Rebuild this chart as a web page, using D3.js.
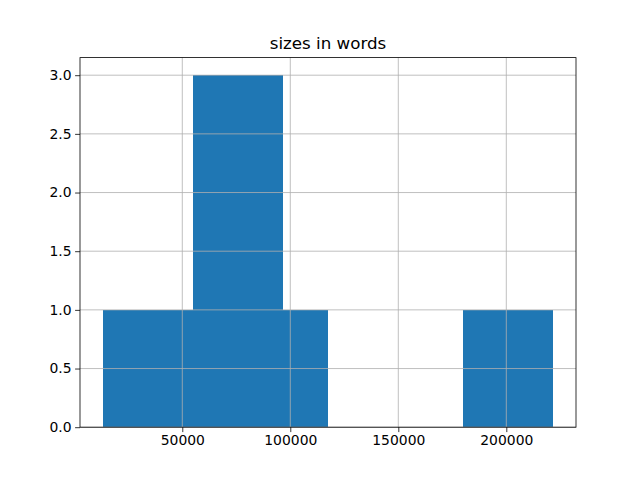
<!DOCTYPE html>
<html><head><meta charset="utf-8">
<script src="https://cdn.jsdelivr.net/npm/d3@7"></script>
<style>body{margin:0;background:#fff}svg{display:block}text{font-family:"DejaVu Sans",sans-serif;fill:#000}</style>
</head><body>
<script>
const title = "sizes in words";
const binMin = 13080;
const binMax = 221830;
const binCounts = [1, 1, 3, 3, 1, 0, 0, 0, 1, 1];
const xTicks = [50000, 100000, 150000, 200000];
const yTicks = [0, 0.5, 1.0, 1.5, 2.0, 2.5, 3.0];

const W = 640, H = 480;
const L = 80, R = 576, T = 57.6, B = 427.2;
const nb = binCounts.length;
const bw = (binMax - binMin) / nb;
const bins = binCounts.map((c, i) => ({x0: binMin + i * bw, x1: binMin + (i + 1) * bw, c}));
const span = binMax - binMin;
const ymax = d3.max(binCounts) * 1.05;

const svg = d3.select("body").append("svg").attr("width", W).attr("height", H);
const x = d3.scaleLinear().domain([binMin - 0.05 * span, binMax + 0.05 * span]).range([L, R]);
const y = d3.scaleLinear().domain([0, ymax]).range([B, T]);

svg.append("g").selectAll("rect").data(bins.filter(b => b.c > 0)).join("rect")
  .attr("x", d => x(d.x0)).attr("width", d => x(d.x1) - x(d.x0))
  .attr("y", d => y(d.c)).attr("height", d => y(0) - y(d.c))
  .attr("fill", "#1f77b4").attr("shape-rendering", "crispEdges");

// grid
const g = svg.append("g").attr("stroke", "#b0b0b0").attr("stroke-width", 0.8);
xTicks.forEach(t => g.append("line").attr("x1", x(t)).attr("x2", x(t)).attr("y1", T).attr("y2", B));
yTicks.forEach(t => g.append("line").attr("x1", L).attr("x2", R).attr("y1", y(t)).attr("y2", y(t)));

const xa = svg.append("g").attr("transform", `translate(0,${B})`)
  .call(d3.axisBottom(x).tickValues(xTicks).tickFormat(d3.format("d")).tickSizeOuter(0).tickSize(4.9).tickPadding(3.5));
const ya = svg.append("g").attr("transform", `translate(${L},0)`)
  .call(d3.axisLeft(y).tickValues(yTicks).tickFormat(d3.format(".1f")).tickSizeOuter(0).tickSize(4.9).tickPadding(3.5));
[xa, ya].forEach(a => {
  a.select(".domain").remove();
  a.selectAll("text").attr("font-size", "13.9px").attr("font-family", "DejaVu Sans").attr("fill", "#000");
  a.selectAll("line").attr("stroke", "#000").attr("stroke-width", 0.8);
});

svg.append("rect").attr("x", L).attr("y", T).attr("width", R - L).attr("height", B - T)
  .attr("fill", "none").attr("stroke", "#000").attr("stroke-width", 0.8);

svg.append("text").attr("x", (L + R) / 2).attr("y", T - 8.3).attr("text-anchor", "middle")
  .attr("font-size", "16.7px").text(title);
</script>
</body></html>
